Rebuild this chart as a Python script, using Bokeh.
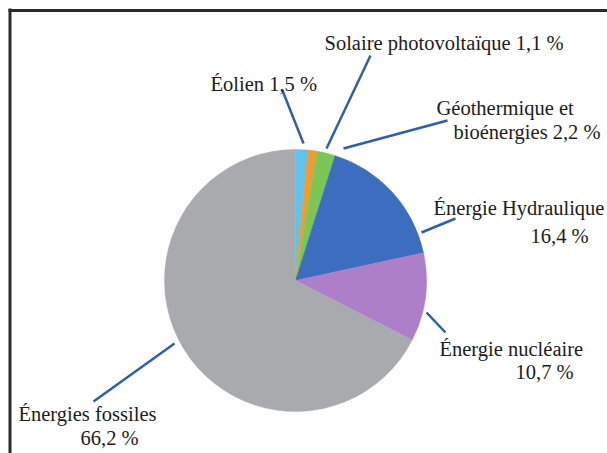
import math
from bokeh.plotting import figure
from bokeh.models import Range1d, ColumnDataSource
from bokeh.core.properties import value
from bokeh.embed import file_html
from bokeh.resources import INLINE

# ---- data ----
categories = ["Éolien", "Solaire photovoltaïque", "Géothermique et bioénergies",
              "Énergie Hydraulique", "Énergie nucléaire", "Énergies fossiles"]
shares = [1.5, 1.1, 2.2, 16.4, 10.7, 66.2]
colors = ["#5DC4F0", "#F29B30", "#7CC656", "#3D6DBF", "#AE7FC9", "#A9AAAE"]

# label text split into lines (built from data)
def pct(v):
    return f"{v:.1f}".replace(".", ",") + " %"

label_lines = [
    [f"{categories[0]} {pct(shares[0])}"],
    [f"{categories[1]} {pct(shares[1])}"],
    ["Géothermique et", f"bioénergies {pct(shares[2])}"],
    [categories[3], pct(shares[3])],
    [categories[4], pct(shares[4])],
    [categories[5], pct(shares[5])],
]

# ---- layout (screen pixels) ----
W, H = 607, 453
CX, CY, R = 295, 280, 131
label_pos = [  # (left x, center y) for each line
    [(210, 83)],
    [(324, 42)],
    [(436, 107), (453, 131)],
    [(433, 207), (530, 235)],
    [(439, 348), (515, 371)],
    [(18, 413), (80, 437)],
]
leaders = [  # (x0, y0, x1, y1)
    (303, 143, 282, 90),
    (326, 148, 370, 55),
    (343, 148, 447, 120),
    (421, 232, 455, 218),
    (426, 312, 445, 332),
    (174, 343, 93, 401),
]

p = figure(width=W, height=H, output_backend="svg", toolbar_location=None,
           x_range=Range1d(0, W), y_range=Range1d(-H, 0),
           min_border=0, outline_line_color=None)
p.axis.visible = False
p.grid.visible = False
p.background_fill_color = "white"
p.border_fill_color = "white"

total = sum(shares)
starts, ends = [], []
cum = 0.0
for v in shares:
    starts.append(math.pi / 2 - 2 * math.pi * cum / total)
    cum += v
    ends.append(math.pi / 2 - 2 * math.pi * cum / total)

src = ColumnDataSource(dict(start=starts, end=ends, color=colors, cat=categories, share=shares))
p.wedge(x=CX, y=-CY, radius=R, start_angle="start", end_angle="end",
        direction="clock", fill_color="color", line_color="color", line_width=0.5, source=src)

# leader lines
p.segment(x0=[l[0] for l in leaders], y0=[-l[1] for l in leaders],
          x1=[l[2] for l in leaders], y1=[-l[3] for l in leaders],
          line_color="#2F5FA8", line_width=2.5)

# labels
tx, ty, tt = [], [], []
for lines, poss in zip(label_lines, label_pos):
    for s, (x, y) in zip(lines, poss):
        tx.append(x); ty.append(-y); tt.append(s)
p.text(x=tx, y=ty, text=tt, text_font=value("Liberation Serif"),
       text_font_size="20.5px", text_color="#1c1c1c",
       text_baseline="middle", text_align="left")

# frame border (top and left)
p.segment(x0=[8, 9.5], y0=[-10, -8], x1=[W, 9.5], y1=[-10, -H],
          line_color="#2b2b2b", line_width=3)

open("out.html", "w").write(file_html(p, INLINE))
